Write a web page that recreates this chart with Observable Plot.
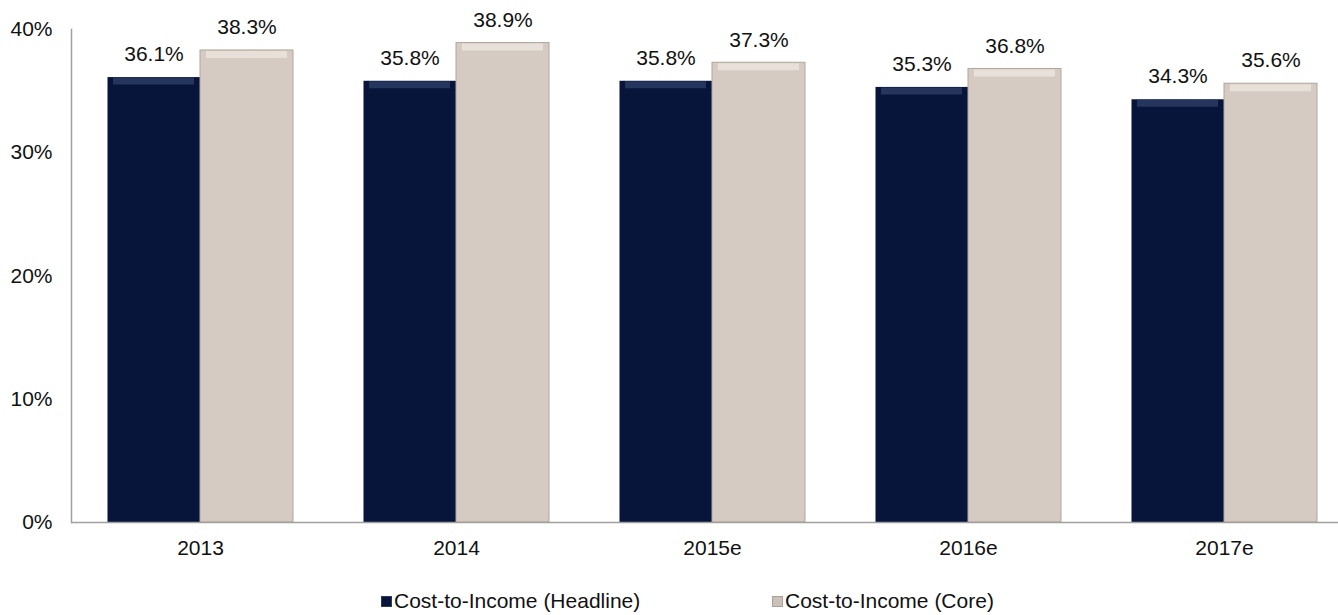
<!DOCTYPE html>
<html>
<head>
<meta charset="utf-8">
<script src="https://cdn.jsdelivr.net/npm/d3@7"></script>
<script src="https://cdn.jsdelivr.net/npm/@observablehq/plot@0.6"></script>
<style>
  html, body { margin: 0; padding: 0; background: #fff; }
  body { width: 1338px; height: 615px; overflow: hidden; font-family: "Liberation Sans", Arial, sans-serif; }
  #chart svg { display: block; overflow: hidden; }
  #legend { position: relative; height: 55px; font-size: 21px; color: #111; }
  .item { position: absolute; top: 29px; display: flex; align-items: center; white-space: nowrap; }
  .sw { width: 11px; height: 11px; margin-right: 2px; box-sizing: border-box; }
</style>
</head>
<body>
<div id="chart"></div>
<div id="legend"></div>
<script>
const years = ["2013", "2014", "2015e", "2016e", "2017e"];
const seriesNames = ["Cost-to-Income (Headline)", "Cost-to-Income (Core)"];
const headline = [0.361, 0.358, 0.358, 0.353, 0.343];
const core = [0.383, 0.389, 0.373, 0.368, 0.356];
const yTicks = [0, 0.1, 0.2, 0.3, 0.4];
const colors = ["#061539", "#d5cbc2"];
const highlights = ["#2d3d66", "#ece6e0"];

const rows = [];
years.forEach((y, i) => {
  rows.push({year: y, series: seriesNames[0], value: headline[i]});
  rows.push({year: y, series: seriesNames[1], value: core[i]});
});
const H = rows.filter(d => d.series === seriesNames[0]);
const C = rows.filter(d => d.series === seriesNames[1]);
const half = 93;
const fmt = d3.format(".1%");

const plot = Plot.plot({
  width: 1338,
  height: 560,
  marginLeft: 71,
  marginRight: 0,
  marginTop: 29,
  marginBottom: 38,
  style: {fontFamily: "'Liberation Sans', Arial, sans-serif", fontSize: "21px", color: "#111", background: "#fff"},
  x: {domain: years, range: [71, 1353], paddingInner: 0.274, paddingOuter: 0.137, label: null},
  y: {domain: [0, 0.4], label: null},
  marks: [
    Plot.barY(H, {x: "year", y: "value", fill: colors[0], insetRight: half, insetLeft: 0.5}),
    Plot.barY(C, {x: "year", y: "value", fill: colors[1], insetLeft: half, stroke: "#b0a69c", strokeWidth: 1}),
    Plot.tickY(H, {x: "year", y: "value", stroke: highlights[0], strokeWidth: 7, strokeOpacity: 0.8, dy: 3.5, insetRight: half + 6, insetLeft: 6}),
    Plot.tickY(C, {x: "year", y: "value", stroke: highlights[1], strokeWidth: 7, strokeOpacity: 0.8, dy: 4, insetLeft: half + 6, insetRight: 6}),
    Plot.text(H, {x: "year", y: "value", text: d => fmt(d.value), dx: -half / 2, dy: -23, fill: "#111", fontSize: 21}),
    Plot.text(C, {x: "year", y: "value", text: d => fmt(d.value), dx: half / 2, dy: -23, fill: "#111", fontSize: 21}),
    Plot.ruleY([0], {stroke: "#a0a0a0", strokeWidth: 1.5}),
    Plot.frame({anchor: "left", stroke: "#a0a0a0", strokeWidth: 1.5}),
    Plot.axisY({ticks: yTicks, tickFormat: d3.format(".0%"), tickSize: 0, tickPadding: 19, fontSize: 21, label: null, fill: "#111"}),
    Plot.axisX({tickSize: 0, tickPadding: 18, fontSize: 21, label: null, fill: "#111"})
  ]
});
document.getElementById("chart").appendChild(plot);

const legend = document.getElementById("legend");
const lefts = [381, 772];
const swatch = [colors[0], "#c9c1ba"];
seriesNames.forEach((name, i) => {
  const it = document.createElement("div");
  it.className = "item";
  it.style.left = lefts[i] + "px";
  const sw = document.createElement("span");
  sw.className = "sw";
  sw.style.background = swatch[i];
  sw.style.border = "1px solid " + (i === 0 ? "#2a3a60" : "#a9a098");
  const tx = document.createElement("span");
  tx.textContent = name;
  it.appendChild(sw);
  it.appendChild(tx);
  legend.appendChild(it);
});
</script>
</body>
</html>
